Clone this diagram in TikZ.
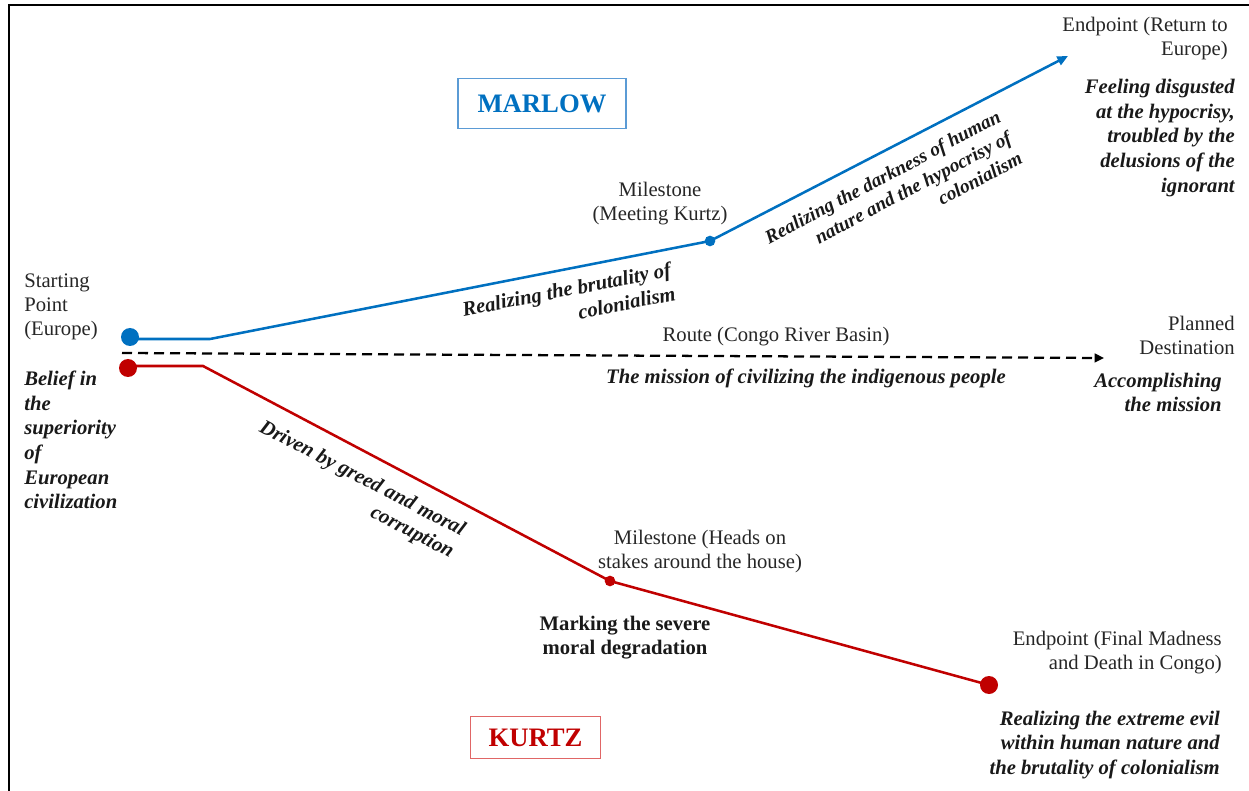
\documentclass[tikz,border=0pt]{standalone}
\usepackage{fontspec}
\setmainfont{Liberation Serif}
\usetikzlibrary{arrows.meta}
\definecolor{mblue}{HTML}{0070C0}
\definecolor{mboxblue}{HTML}{5B9BD5}
\definecolor{kred}{HTML}{C00000}
\definecolor{kboxred}{HTML}{E06666}
\definecolor{txt}{HTML}{262626}
\begin{document}
\begin{tikzpicture}[x=0.75pt,y=-0.75pt,
  every node/.style={inner sep=0pt, text=txt, font=\fontsize{15.5}{18}\selectfont},
  plain/.style={align=center},
  note/.style={font=\fontsize{15.5}{18.5}\selectfont\bfseries\itshape, text=black!90},
  bluedot/.style={circle, fill=mblue, draw=none},
  reddot/.style={circle, fill=kred, draw=none},
  blueline/.style={draw=mblue, line width=1.9pt},
  redline/.style={draw=kred, line width=1.9pt},
  titlebox/.style={draw, line width=0.9pt, minimum width=126pt, minimum height=37pt, font=\fontsize{20}{24}\selectfont\bfseries}
]
\useasboundingbox (0,0) rectangle (1249,791);
% frame
\draw[line width=2.2pt, line cap=rect] (9,791) -- (9,5) -- (1249,5);

% titles
\node[titlebox, draw=mboxblue, text=mblue] (marlow) at (542,103.5) {MARLOW};
\node[titlebox, draw=kboxred, text=kred, minimum width=98pt, minimum height=32pt] (kurtz) at (535.5,737.5) {KURTZ};

% dots and points
\node[bluedot, minimum size=13.5pt] (bstart) at (130,337) {};
\coordinate (bbend) at (210,339);
\node[bluedot, minimum size=8pt] (bmile) at (710,241) {};
\coordinate (bend) at (1068,56);

\node[reddot, minimum size=13.5pt] (rstart) at (128,368) {};
\coordinate (rbend) at (203,366);
\node[reddot, minimum size=8pt] (rmile) at (610,581) {};
\node[reddot, minimum size=13.5pt] (rend) at (989,685) {};

\coordinate (dstart) at (122,353);
\coordinate (dend) at (1104,358);

% connectors
\draw[blueline] (bstart.center) ++(0,2) -- (bbend) -- (bmile.center);
\draw[blueline, -{Triangle[length=8pt,width=7pt]}] (bmile.center) -- (bend);
\draw[redline] (rstart.center) ++(0,-2) -- (rbend) -- (rmile.center) -- (rend.center);
\draw[line width=1.7pt, dash pattern=on 7.5pt off 4.5pt, -{Triangle[length=7pt,width=6.5pt]}] (dstart) -- (dend);

% left texts
\node[anchor=west, align=left] (startlbl) at (24,307) {Starting\\Point\\(Europe)};
\node[anchor=west, align=left, note] (belief) at (24,440) {Belief in\\the\\superiority\\of\\European\\civilization};

% marlow texts
\node[plain] (mk) at (660,204) {Milestone\\(Meeting Kurtz)};
\node[note, align=right, rotate=11, anchor=east] (brut) at (673,281) {Realizing the brutality of\\colonialism};
\node[note, font=\fontsize{14.5}{17.5}\selectfont\bfseries\itshape, align=right, rotate=27.8, anchor=east] (dark) at (1010,136) {Realizing the darkness of human\\nature and the hypocrisy of\\colonialism};
\node[anchor=east, align=right] (retlbl) at (1228,38.5) {Endpoint (Return to\\Europe)};
\node[anchor=east, align=right, note] (disg) at (1235,138) {Feeling disgusted\\at the hypocrisy,\\troubled by the\\delusions of the\\ignorant};

% route texts
\node[plain] (route) at (776,337) {Route (Congo River Basin)};
\node[note] (mission) at (806,378) {The mission of civilizing the indigenous people};
\node[anchor=east, align=right] (planned) at (1235,335.5) {Planned\\Destination};
\node[anchor=east, align=right, note] (accomp) at (1222,392.5) {Accomplishing\\the mission};

% kurtz texts
\node[note, align=right, rotate=-27.4, anchor=east] (greed) at (458,543) {Driven by greed and moral\\corruption};
\node[plain] (heads) at (700,551.5) {Milestone (Heads on\\stakes around the house)};
\node[align=center, font=\fontsize{15.5}{18}\selectfont\bfseries, text=black!90] (marking) at (625,638) {Marking the severe\\moral degradation};
\node[anchor=east, align=right] (madness) at (1222,653) {Endpoint (Final Madness\\and Death in Congo)};
\node[anchor=east, align=right, note] (evil) at (1220,745) {Realizing the extreme evil\\within human nature and\\the brutality of colonialism};
\end{tikzpicture}
\end{document}
